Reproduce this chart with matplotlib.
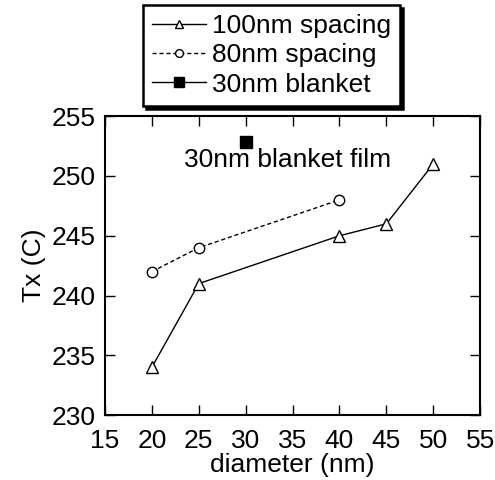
import matplotlib
matplotlib.use('Agg')
from matplotlib import pyplot as plt

# data
diam_100 = [20, 25, 40, 45, 50]
tx_100 = [234, 241, 245, 246, 251]
diam_80 = [20, 25, 40]
tx_80 = [242, 244, 248]
diam_blanket = [30]
tx_blanket = [252.8]

plt.rcParams['font.family'] = ['Liberation Sans', 'DejaVu Sans']
plt.rcParams['font.size'] = 19

fig = plt.figure(figsize=(4.95, 4.8), dpi=100)
ax = fig.add_axes([0.212, 0.135, 0.758, 0.623])

ax.plot(diam_100, tx_100, '-k', lw=1.0, marker='^', ms=8, mfc='white',
        mec='k', mew=1.0, label='100nm spacing')
ax.plot(diam_80, tx_80, '--k', lw=1.0, dashes=(3, 2), marker='o', ms=7.5,
        mfc='white', mec='k', mew=1.0, label='80nm spacing')
ax.plot(diam_blanket, tx_blanket, '-k', lw=1.0, marker='s', ms=9,
        mfc='k', mec='k', label='30nm blanket')

ax.text(34.5, 251.3, '30nm blanket film', ha='center', va='center')

ax.set_xlim(15, 55)
ax.set_ylim(230, 255)
ax.set_xticks(range(15, 56, 5))
ax.set_yticks(range(230, 256, 5))
ax.tick_params(direction='in', length=7, width=1.0, top=True, right=True,
               labelsize=19, pad=7)
ax.tick_params(axis='x', pad=10)
for s in ax.spines.values():
    s.set_linewidth(1.5)

ax.set_xlabel('diameter (nm)', labelpad=0)
ax.set_ylabel('Tx (C)', labelpad=4)

leg = fig.legend(loc='upper left', bbox_to_anchor=(0.289, 0.99),
                 borderaxespad=0, frameon=True, fancybox=False,
                 edgecolor='k', shadow={'color': 'k', 'alpha': 1},
                 handlelength=2.05, handletextpad=0.2, borderpad=0.35,
                 labelspacing=0.2, markerscale=0.75, fontsize=19)
leg.get_frame().set_linewidth(1.8)

fig.savefig('out.png', dpi=100)
